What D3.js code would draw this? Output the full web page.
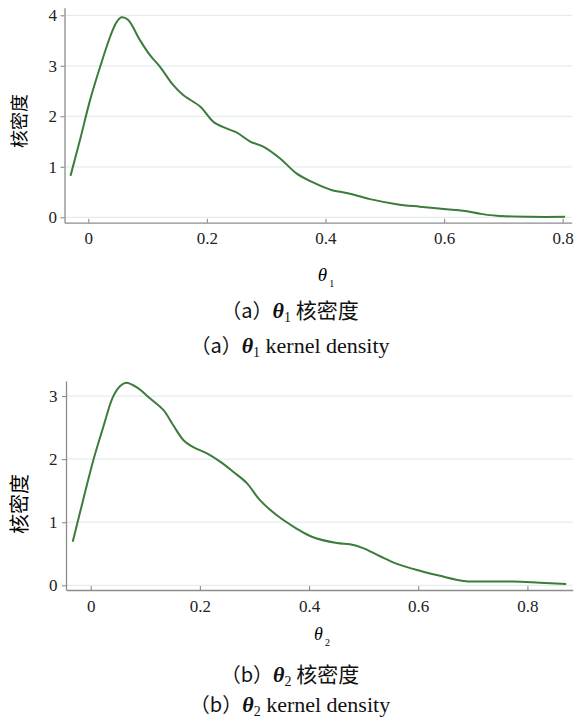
<!DOCTYPE html>
<html>
<head>
<meta charset="utf-8">
<script src="https://cdn.jsdelivr.net/npm/d3@7"></script>
<style>
  body { margin: 0; background: #fff; }
  svg { display: block; }
</style>
</head>
<body>
<svg width="574" height="722"></svg>
<script>
// theta_1 kernel density
const theta1X = [-0.030, -0.014, 0.003, 0.020, 0.037, 0.048, 0.056, 0.067, 0.087, 0.104,
                 0.121, 0.143, 0.160, 0.189, 0.211, 0.233, 0.250, 0.273, 0.295, 0.323,
                 0.351, 0.379, 0.410, 0.436, 0.475, 0.520, 0.559, 0.604, 0.632, 0.661,
                 0.689, 0.745, 0.804];
const theta1Density = [0.82, 1.53, 2.32, 2.98, 3.58, 3.87, 3.96, 3.91, 3.51, 3.21,
                       2.98, 2.62, 2.42, 2.19, 1.89, 1.76, 1.68, 1.50, 1.40, 1.17,
                       0.87, 0.69, 0.54, 0.48, 0.36, 0.26, 0.21, 0.16, 0.13, 0.07,
                       0.03, 0.01, 0.01];

// theta_2 kernel density
const theta2X = [-0.033, -0.014, 0.005, 0.023, 0.041, 0.054, 0.065, 0.084, 0.109, 0.133,
                 0.151, 0.170, 0.188, 0.213, 0.237, 0.261, 0.286, 0.310, 0.341, 0.377,
                 0.405, 0.451, 0.475, 0.499, 0.530, 0.561, 0.603, 0.640, 0.683, 0.713,
                 0.774, 0.823, 0.871];
const theta2Density = [0.69, 1.35, 1.99, 2.51, 2.99, 3.16, 3.21, 3.14, 2.96, 2.78,
                       2.54, 2.30, 2.19, 2.09, 1.96, 1.80, 1.62, 1.35, 1.11, 0.90,
                       0.77, 0.67, 0.65, 0.59, 0.46, 0.34, 0.23, 0.15, 0.07, 0.06,
                       0.06, 0.04, 0.02];

const xTicks = [0, 0.2, 0.4, 0.6, 0.8];
const yTicks1 = [0, 1, 2, 3, 4];
const yTicks2 = [0, 1, 2, 3];
const yTitle = "核密度";
const captionsA = ["（a）", "1", " 核密度", "（a）", "1", " kernel density"];
const captionsB = ["（b）", "2", " 核密度", "（b）", "2", " kernel density"];

const svg = d3.select("svg");
const serif = "'Liberation Serif', 'Times New Roman', 'Noto Sans CJK SC', serif";
const cjk = "'Noto Sans CJK SC', sans-serif";
const green = "#3b7b3b";
const axisGray = "#8c8c8c";

function drawPanel(p) {
    const x = d3.scaleLinear().domain(p.xDomain).range(p.xRange);
    const y = d3.scaleLinear().domain(p.yDomain).range(p.yRange);
    const g = svg.append("g");

    // grid
    g.selectAll(".grid").data(p.yTicks).join("line")
        .attr("x1", p.xRange[0]).attr("x2", p.xRange[1])
        .attr("y1", d => y(d)).attr("y2", d => y(d))
        .attr("stroke", "#e3edeb").attr("stroke-width", 1.2);

    const ya = g.append("g")
        .attr("transform", `translate(${p.xRange[0]},0)`)
        .call(d3.axisLeft(y).tickValues(p.yTicks).tickSize(4).tickSizeOuter(0)
            .tickPadding(p.yPad).tickFormat(d3.format("d")));

    const xa = g.append("g")
        .attr("transform", `translate(0,${p.yRange[0]})`)
        .call(d3.axisBottom(x).tickValues(xTicks).tickSize(-4).tickSizeOuter(0)
            .tickPadding(p.xPad).tickFormat(d => d === 0 ? "0" : d.toFixed(1)));

    [ya, xa].forEach(a => {
        a.attr("font-family", serif).attr("font-size", p.tickFont);
        a.selectAll("text").attr("fill", "#222");
        a.select(".domain").attr("stroke", axisGray).attr("stroke-width", 1.3);
        a.selectAll(".tick line").attr("stroke", axisGray).attr("stroke-width", 1.1);
    });

    // density curve
    const line = d3.line()
        .x((d, i) => x(p.xs[i]))
        .y(d => y(d))
        .curve(d3.curveCatmullRom.alpha(0.5));
    g.append("path")
        .attr("d", line(p.ys))
        .attr("fill", "none")
        .attr("stroke", green)
        .attr("stroke-width", 2);

    // y title
    g.append("text")
        .attr("transform", `translate(${p.yTitlePos[0]},${p.yTitlePos[1]}) rotate(-90)`)
        .attr("text-anchor", "middle")
        .attr("dominant-baseline", "central")
        .attr("font-family", cjk)
        .attr("font-size", p.yTitleFont)
        .text(yTitle);

    // x title theta_n
    const xt = g.append("text")
        .attr("x", p.xTitlePos[0]).attr("y", p.xTitlePos[1])
        .attr("text-anchor", "middle")
        .attr("font-family", serif);
    xt.append("tspan").attr("font-style", "italic").attr("font-size", p.thetaFont).text("θ");
    xt.append("tspan").attr("font-size", 10).attr("dx", 2).attr("dy", 6).text(p.caps[1]);

    // captions
    [0, 3].forEach((k, j) => {
        const t = g.append("text")
            .attr("x", 290).attr("y", p.capY[j])
            .attr("text-anchor", "middle")
            .attr("font-family", serif)
            .attr("font-size", 22)
            .attr("fill", "#111");
        t.append("tspan").attr("font-family", cjk).attr("font-size", 20).text(p.caps[k]);
        t.append("tspan").attr("font-style", "italic").attr("font-weight", "bold").text("θ");
        t.append("tspan").attr("font-size", 14).attr("dy", 4).text(p.caps[k + 1]);
        const rest = t.append("tspan").attr("dy", -4).text(p.caps[k + 2]);
        if (k === 0) rest.attr("font-family", cjk).attr("font-size", 21);
    });
}

drawPanel({
    xs: theta1X, ys: theta1Density, yTicks: yTicks1,
    xDomain: [-0.0401, 0.8152], xRange: [64.5, 571.7],
    yDomain: [-0.107, 4.15], yRange: [222.7, 7.7],
    tickFont: 17, xPad: 9, yPad: 3.5,
    yTitlePos: [18, 121], yTitleFont: 18,
    xTitlePos: [326, 281], thetaFont: 19,
    caps: captionsA, capY: [318, 353]
});

drawPanel({
    xs: theta2X, ys: theta2Density, yTicks: yTicks2,
    xDomain: [-0.0453, 0.883], xRange: [66, 572.7],
    yDomain: [-0.0745, 3.24], yRange: [590, 380.9],
    tickFont: 17, xPad: 10, yPad: 4.5,
    yTitlePos: [18, 504], yTitleFont: 20,
    xTitlePos: [322, 640], thetaFont: 18,
    caps: captionsB, capY: [682, 712]
});
</script>
</body>
</html>
